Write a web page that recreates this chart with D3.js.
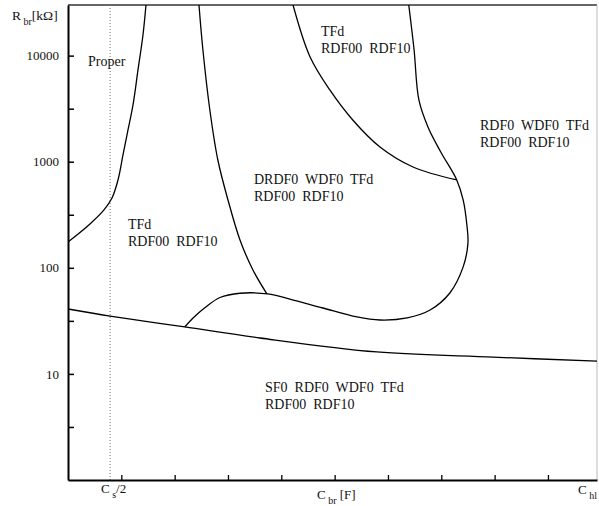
<!DOCTYPE html>
<html>
<head>
<meta charset="utf-8">
<script src="https://cdn.jsdelivr.net/npm/d3@7"></script>
<style>
  html, body { margin: 0; padding: 0; background: #fff; }
  svg { display: block; }
  text { font-family: "Liberation Serif", "DejaVu Serif", serif; fill: #111; }
</style>
</head>
<body>
<svg id="chart" width="599" height="506"></svg>
<script>
// ---- data (x in C_br tick units, y in kΩ) ----
const xTicks = [1, 2, 3, 4, 5, 6, 7, 8, 9];
const yMajorTicks = [10, 100, 1000, 10000];
const yMinorTicks = [3.162, 31.62, 316.2, 3162];
const yTickLabels = ["10", "100", "1000", "10000"];
const csHalf = 0.79;

// "Proper" boundary
const curveProper = [[0, 175], [0.4125, 259], [0.675, 351], [0.825, 455], [0.9375, 673], [1.031, 1157],
  [1.125, 1991], [1.219, 3427], [1.3125, 7325], [1.406, 15660], [1.4625, 30000]];
// left branch descending from top
const curveLeft = [[2.456, 30000], [2.53, 11300], [2.66, 3074], [2.81, 1038], [3.0, 436], [3.225, 183], [3.47, 95], [3.73, 56.7]];
// upper TFd region boundary
const curveUpper = [[4.22, 30000], [4.54, 9710], [4.91, 4745], [5.34, 2473], [5.85, 1377], [6.47, 892], [7.29, 673]];
// right boundary with bulge, back to the lower curve
const curveRight = [[6.39, 30000], [6.49, 11300], [6.58, 3818], [6.75, 2125], [6.99, 1235], [7.29, 673], [7.41, 436],
  [7.48, 253], [7.50, 171], [7.41, 102], [7.16, 57.9], [6.79, 40.0], [6.36, 33.7], [5.85, 32.2], [5.42, 34.4],
  [4.78, 41.8], [4.16, 50.8], [3.75, 56.7], [3.225, 57.6], [2.85, 52.5], [2.56, 41.8], [2.34, 33.5], [2.19, 27.7]];
// bottom boundary
const curveBottom = [[0, 40.9], [0.79, 35.1], [2.19, 27.7], [3.6, 21.8], [5.79, 16.1], [7.97, 14.4], [9.92, 13.2]];

const regionLabels = [
  { x: 0.375, y: 7980, lines: ["Proper"] },
  { x: 1.125, y: 232, lines: ["TFd", "RDF00  RDF10"] },
  { x: 4.744, y: 15310, lines: ["TFd", "RDF00  RDF10"] },
  { x: 3.488, y: 617, lines: ["DRDF0  WDF0  TFd", "RDF00  RDF10"] },
  { x: 7.725, y: 1991, lines: ["RDF0  WDF0  TFd", "RDF00  RDF10"] },
  { x: 3.694, y: 6.75, lines: ["SF0  RDF0  WDF0  TFd", "RDF00  RDF10"] }
];

// ---- layout ----
const svg = d3.select("#chart");
const mLeft = 68, mRight = 597, mTop = 5, mBottom = 480;
const x = d3.scaleLinear().domain([0, 9.92]).range([mLeft, mRight]);
const y = d3.scaleLog().domain([1, 30000]).range([mBottom, mTop]);

svg.append("defs").append("clipPath").attr("id", "clip")
  .append("rect").attr("x", mLeft).attr("y", mTop).attr("width", mRight - mLeft).attr("height", mBottom - mTop);

// frame: top and right
svg.append("line").attr("x1", mLeft).attr("x2", mRight).attr("y1", mTop).attr("y2", mTop)
  .attr("stroke", "#333").attr("stroke-width", 1.6);
svg.append("line").attr("x1", mRight).attr("x2", mRight).attr("y1", mTop).attr("y2", mBottom)
  .attr("stroke", "#bbb").attr("stroke-width", 1);

// dotted Cs/2 line
svg.append("line").attr("x1", x(csHalf)).attr("x2", x(csHalf)).attr("y1", mTop).attr("y2", mBottom)
  .attr("stroke", "#777").attr("stroke-width", 1).attr("stroke-dasharray", "1,2");

// axes
const yAxis = d3.axisLeft(y).tickValues(yMajorTicks.concat(yMinorTicks))
  .tickFormat(d => { const i = yMajorTicks.indexOf(d); return i >= 0 ? yTickLabels[i] : ""; })
  .tickSizeInner(-6).tickSizeOuter(0).tickPadding(9);
const gy = svg.append("g").attr("transform", `translate(${mLeft},0)`).call(yAxis);
gy.select(".domain").attr("stroke", "#000").attr("stroke-width", 2);
gy.selectAll(".tick line").attr("stroke", "#000").attr("stroke-width", 1.5);
gy.selectAll(".tick text").attr("font-size", 13).attr("font-family", "Liberation Serif").attr("fill", "#111");

const xAxis = d3.axisBottom(x).tickValues(xTicks).tickFormat("").tickSizeInner(-5).tickSizeOuter(0);
const gx = svg.append("g").attr("transform", `translate(0,${mBottom})`).call(xAxis);
gx.select(".domain").attr("stroke", "#000").attr("stroke-width", 1.8);
gx.selectAll(".tick line").attr("stroke", "#000").attr("stroke-width", 1.3);

// curves
const line = d3.line().x(d => x(d[0])).y(d => y(d[1])).curve(d3.curveCatmullRom.alpha(0.5));
const plot = svg.append("g").attr("clip-path", "url(#clip)");
[curveProper, curveLeft, curveUpper, curveRight, curveBottom].forEach(c => {
  plot.append("path").datum(c).attr("d", line)
    .attr("fill", "none").attr("stroke", "#000").attr("stroke-width", 1.3);
});

// region labels
regionLabels.forEach(l => {
  const t = svg.append("text").attr("x", x(l.x)).attr("y", y(l.y))
    .attr("font-size", 14).style("white-space", "pre");
  l.lines.forEach((s, i) => {
    t.append("tspan").attr("x", x(l.x)).attr("dy", i === 0 ? 0 : 17).text(s);
  });
});

// axis titles
const yt = svg.append("text").attr("x", 12).attr("y", 20).attr("font-size", 13.5);
yt.append("tspan").text("R");
yt.append("tspan").attr("font-size", 10).attr("dy", 5).style("white-space", "pre").text(" br");
yt.append("tspan").attr("dy", -5).text("[kΩ]");

const cs = svg.append("text").attr("x", 101).attr("y", 493).attr("font-size", 13);
cs.append("tspan").text("C");
cs.append("tspan").attr("font-size", 10).attr("dy", 5).style("white-space", "pre").text(" s");
cs.append("tspan").attr("dy", -5).text("/2");

const cb = svg.append("text").attr("x", 317).attr("y", 499).attr("font-size", 13);
cb.append("tspan").text("C");
cb.append("tspan").attr("font-size", 10).attr("dy", 5).style("white-space", "pre").text(" br");
cb.append("tspan").attr("dy", -5).style("white-space", "pre").text(" [F]");

const ch = svg.append("text").attr("x", 578).attr("y", 494).attr("font-size", 13);
ch.append("tspan").text("C");
ch.append("tspan").attr("font-size", 10).attr("dy", 5).style("white-space", "pre").text(" hl");
</script>
</body>
</html>
